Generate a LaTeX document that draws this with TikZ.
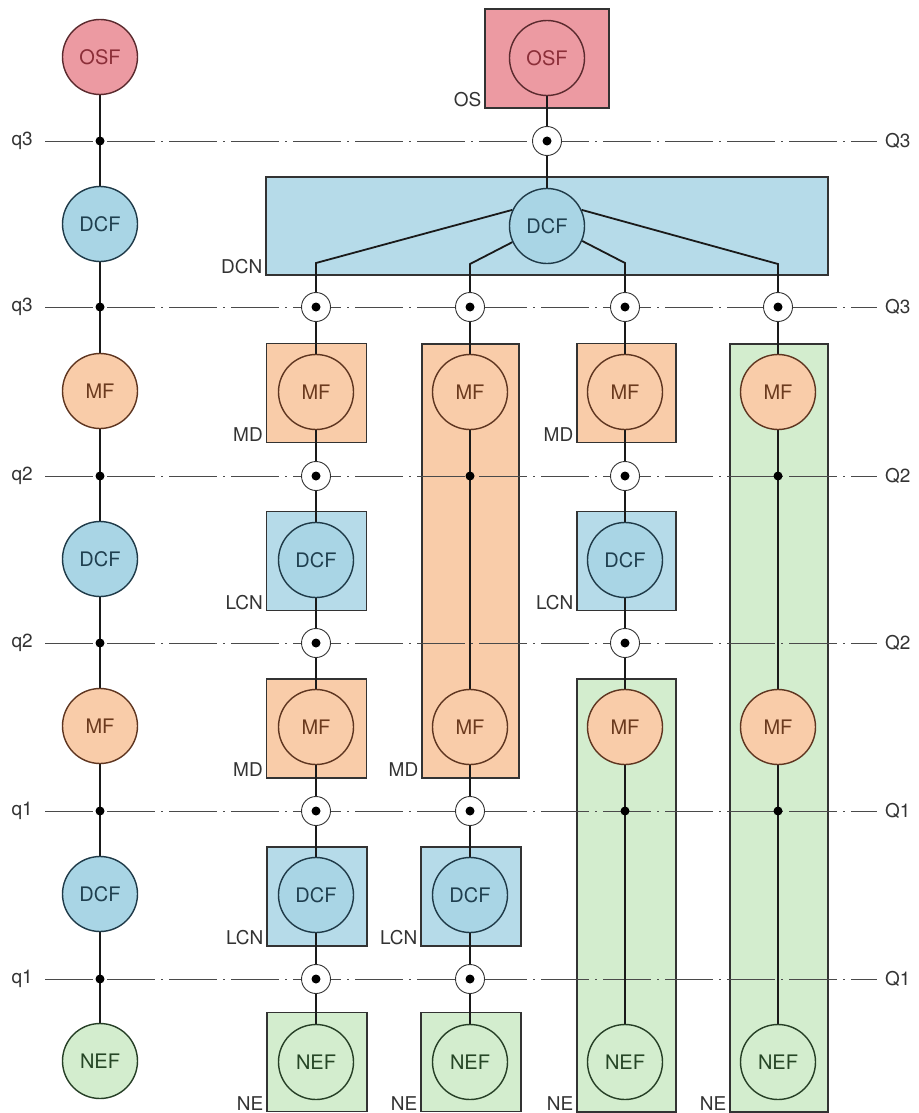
\documentclass[tikz,border=0pt]{standalone}
\usepackage{fontspec}
\setmainfont{TeX Gyre Heros}
\definecolor{osfF}{HTML}{EC9AA2}
\definecolor{osfD}{HTML}{5A2A2E}
\definecolor{osfT}{HTML}{8B2E38}
\definecolor{bluF}{HTML}{A9D5E5}
\definecolor{bluD}{HTML}{1F3A48}
\definecolor{bluT}{HTML}{1F3F4F}
\definecolor{mfF}{HTML}{F9CCA9}
\definecolor{mfD}{HTML}{5E3520}
\definecolor{mfT}{HTML}{6B3A1E}
\definecolor{grF}{HTML}{D3EDCE}
\definecolor{grD}{HTML}{263F26}
\definecolor{grT}{HTML}{254525}
\definecolor{boxD}{HTML}{333333}
\definecolor{labC}{HTML}{333333}
\definecolor{qC}{HTML}{4A4A4A}
\definecolor{connC}{HTML}{1A1A1A}
\pgfdeclarelayer{bg}
\pgfdeclarelayer{lines}
\pgfsetlayers{bg,lines,main}
\begin{document}
\begin{tikzpicture}[x=1pt,y=-1pt,
  fn/.style={circle, minimum size=75pt, inner sep=0pt, line width=1.4pt, font=\fontsize{20}{22}\selectfont},
  osf/.style={fn, fill=osfF, draw=osfD, text=osfT},
  dcf/.style={fn, fill=bluF, draw=bluD, text=bluT},
  mf/.style={fn, fill=mfF, draw=mfD, text=mfT},
  nef/.style={fn, fill=grF, draw=grD, text=grT},
  bx/.style={rectangle, draw=boxD, line width=1.1pt, inner sep=0pt},
  sbox/.style={bx, minimum width=100pt, minimum height=99pt},
  lab/.style={font=\fontsize{19}{21}\selectfont, text=labC, inner sep=0pt, anchor=base east},
  qlab/.style={font=\fontsize{19}{21}\selectfont, text=labC, inner sep=0pt},
  qline/.style={draw=qC, line width=0.8pt, dash pattern=on 48pt off 6pt on 2pt off 6pt},
  conn/.style={draw=connC, line width=1.8pt},
  sym/.style={circle, draw=boxD, fill=white, line width=0.9pt, minimum size=29pt, inner sep=0pt,
    path picture={\fill[black] (path picture bounding box.center) circle (4.5pt);}},
  jd/.style={circle, fill=black, minimum size=9pt, inner sep=0pt},
]
\useasboundingbox (0,0) rectangle (918,1113);

% ---------- background boxes ----------
\begin{pgfonlayer}{bg}
\node[bx, fill=osfF, minimum width=124pt, minimum height=99pt] (OSbox) at (547,58.5) {};
\node[bx, fill=bluF!85!white, minimum width=562pt, minimum height=98pt] (DCNbox) at (547,226) {};
% column 1
\node[sbox, fill=mfF] (MD1a) at (316.5,393) {};
\node[sbox, fill=bluF!85!white] (LCN1a) at (316.5,561) {};
\node[sbox, fill=mfF] (MD1b) at (316.5,728.5) {};
\node[sbox, fill=bluF!85!white] (LCN1b) at (317,896.5) {};
\node[sbox, fill=grF] (NE1) at (317,1062) {};
% column 2
\node[bx, fill=mfF, minimum width=97pt, minimum height=434pt] (MD2) at (470.5,561) {};
\node[sbox, fill=bluF!85!white] (LCN2) at (471,896.5) {};
\node[sbox, fill=grF] (NE2) at (471,1062) {};
% column 3
\node[bx, fill=mfF, minimum width=99pt, minimum height=99pt] (MD3) at (626.5,393) {};
\node[bx, fill=bluF!85!white, minimum width=99pt, minimum height=99pt] (LCN3) at (626.5,561) {};
\node[bx, fill=grF, minimum width=99pt, minimum height=433pt] (NE3) at (626.5,895.5) {};
% column 4
\node[bx, fill=grF, minimum width=98pt, minimum height=768pt] (NE4) at (779,728) {};
\end{pgfonlayer}

% ---------- box labels ----------
\node[lab] (lOS) at ([xshift=-3pt,yshift=2pt]OSbox.south west) {OS};
\node[lab] (lDCN) at ([xshift=-3pt,yshift=2pt]DCNbox.south west) {DCN};
\node[lab] (lMD1a) at ([xshift=-3pt,yshift=2pt]MD1a.south west) {MD};
\node[lab] (lLCN1a) at ([xshift=-3pt,yshift=2pt]LCN1a.south west) {LCN};
\node[lab] (lMD1b) at ([xshift=-3pt,yshift=2pt]MD1b.south west) {MD};
\node[lab] (lLCN1b) at ([xshift=-3pt,yshift=2pt]LCN1b.south west) {LCN};
\node[lab] (lNE1) at ([xshift=-3pt,yshift=2pt]NE1.south west) {NE};
\node[lab] (lMD2) at ([xshift=-3pt,yshift=2pt]MD2.south west) {MD};
\node[lab] (lLCN2) at ([xshift=-3pt,yshift=2pt]LCN2.south west) {LCN};
\node[lab] (lNE2) at ([xshift=-3pt,yshift=2pt]NE2.south west) {NE};
\node[lab] (lMD3) at ([xshift=-3pt,yshift=2pt]MD3.south west) {MD};
\node[lab] (lLCN3) at ([xshift=-3pt,yshift=2pt]LCN3.south west) {LCN};
\node[lab] (lNE3) at ([xshift=-3pt,yshift=2pt]NE3.south west) {NE};
\node[lab] (lNE4) at ([xshift=-3pt,yshift=2pt]NE4.south west) {NE};

% ---------- level labels and line ends ----------
\foreach \i/\y/\l/\r in {1/141/q3/Q3, 2/307/q3/Q3, 3/476/q2/Q2, 4/643/q2/Q2, 5/811/q1/Q1, 6/979/q1/Q1}{
  \node[qlab, anchor=east] (ql\i) at (33,\y) {\l};
  \node[qlab, anchor=west] (qr\i) at (885,\y) {\r};
  \coordinate (qa\i) at (45,\y);
  \coordinate (qb\i) at (877,\y);
}

% ---------- function nodes ----------
% left column
\node[osf] (Losf) at (100,57) {OSF};
\node[dcf] (Ldcf1) at (100,224) {DCF};
\node[mf]  (Lmf1) at (100,391) {MF};
\node[dcf] (Ldcf2) at (100,559) {DCF};
\node[mf]  (Lmf2) at (100,726) {MF};
\node[dcf] (Ldcf3) at (100,894) {DCF};
\node[nef] (Lnef) at (100,1061) {NEF};
% top
\node[osf] (Tosf) at (547,58) {OSF};
\node[dcf] (Tdcf) at (547,226) {DCF};
% column 1
\node[mf]  (C1mf1) at (316,392) {MF};
\node[dcf] (C1dcf1) at (316,560) {DCF};
\node[mf]  (C1mf2) at (316,727) {MF};
\node[dcf] (C1dcf2) at (316,895) {DCF};
\node[nef] (C1nef) at (316,1062) {NEF};
% column 2
\node[mf]  (C2mf1) at (470,392) {MF};
\node[mf]  (C2mf2) at (470,727) {MF};
\node[dcf] (C2dcf) at (470,895) {DCF};
\node[nef] (C2nef) at (470,1062) {NEF};
% column 3
\node[mf]  (C3mf1) at (625,392) {MF};
\node[dcf] (C3dcf) at (625,560) {DCF};
\node[mf]  (C3mf2) at (625,727) {MF};
\node[nef] (C3nef) at (625,1062) {NEF};
% column 4
\node[mf]  (C4mf1) at (778,392) {MF};
\node[mf]  (C4mf2) at (778,727) {MF};
\node[nef] (C4nef) at (778,1062) {NEF};

% ---------- interface symbols and junctions ----------
\foreach \i/\y in {1/141,2/307,3/476,4/643,5/811,6/979}{
  \node[jd] (Lj\i) at (100,\y) {};
}
\node[sym] (Tsym) at (547,141) {};
\node[sym] (S1a) at (316,307) {};
\node[sym] (S2a) at (470,307) {};
\node[sym] (S3a) at (625,307) {};
\node[sym] (S4a) at (778,307) {};
\node[sym] (S1b) at (316,476) {};
\node[sym] (S3b) at (625,476) {};
\node[sym] (S1c) at (316,643) {};
\node[sym] (S3c) at (625,643) {};
\node[sym] (S1d) at (316,811) {};
\node[sym] (S2d) at (470,811) {};
\node[sym] (S1e) at (316,979) {};
\node[sym] (S2e) at (470,979) {};
\node[jd] (J2) at (470,476) {};
\node[jd] (J4a) at (778,476) {};
\node[jd] (J3) at (625,811) {};
\node[jd] (J4b) at (778,811) {};

\coordinate (k1) at (316,263);
\coordinate (k2) at (470,264);
\coordinate (k3) at (625,263);
\coordinate (k4) at (778,264);

% ---------- lines ----------
\begin{pgfonlayer}{lines}
\foreach \i in {1,...,6}{ \draw[qline] (qa\i) -- (qb\i); }
% left column
\draw[conn] (Losf) -- (Ldcf1);
\draw[conn] (Ldcf1) -- (Lmf1);
\draw[conn] (Lmf1) -- (Ldcf2);
\draw[conn] (Ldcf2) -- (Lmf2);
\draw[conn] (Lmf2) -- (Ldcf3);
\draw[conn] (Ldcf3) -- (Lnef);
% top
\draw[conn] (Tosf) -- (Tsym);
\draw[conn] (Tsym) -- (Tdcf);
\draw[conn] (Tdcf.155) -- (k1) -- (S1a);
\draw[conn] (Tdcf.205) -- (k2) -- (S2a);
\draw[conn] (Tdcf.337) -- (k3) -- (S3a);
\draw[conn] (Tdcf.25) -- (k4) -- (S4a);
% column 1
\draw[conn] (S1a) -- (C1mf1);
\draw[conn] (C1mf1) -- (S1b);
\draw[conn] (S1b) -- (C1dcf1);
\draw[conn] (C1dcf1) -- (S1c);
\draw[conn] (S1c) -- (C1mf2);
\draw[conn] (C1mf2) -- (S1d);
\draw[conn] (S1d) -- (C1dcf2);
\draw[conn] (C1dcf2) -- (S1e);
\draw[conn] (S1e) -- (C1nef);
% column 2
\draw[conn] (S2a) -- (C2mf1);
\draw[conn] (C2mf1) -- (C2mf2);
\draw[conn] (C2mf2) -- (S2d);
\draw[conn] (S2d) -- (C2dcf);
\draw[conn] (C2dcf) -- (S2e);
\draw[conn] (S2e) -- (C2nef);
% column 3
\draw[conn] (S3a) -- (C3mf1);
\draw[conn] (C3mf1) -- (S3b);
\draw[conn] (S3b) -- (C3dcf);
\draw[conn] (C3dcf) -- (S3c);
\draw[conn] (S3c) -- (C3mf2);
\draw[conn] (C3mf2) -- (C3nef);
% column 4
\draw[conn] (S4a) -- (C4mf1);
\draw[conn] (C4mf1) -- (C4mf2);
\draw[conn] (C4mf2) -- (C4nef);
\end{pgfonlayer}
\end{tikzpicture}
\end{document}
